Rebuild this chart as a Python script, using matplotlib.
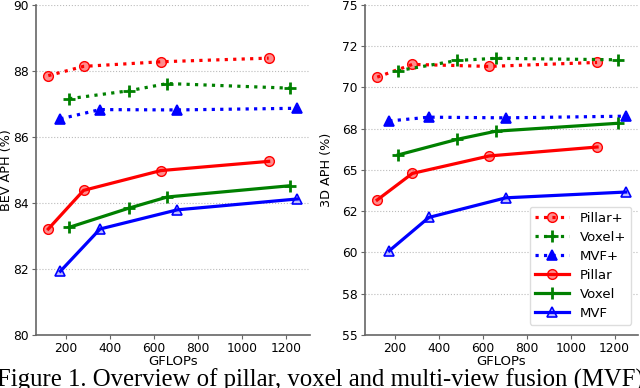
import numpy as np
import matplotlib
matplotlib.use('Agg')
import matplotlib.pyplot as plt
from matplotlib.ticker import FormatStrFormatter, MultipleLocator

# GFLOPs for each backbone
pillar_flops = [120, 280, 630, 1120]
voxel_flops = [215, 485, 660, 1215]
mvf_flops = [175, 355, 705, 1250]

# BEV APH (%)
bev_pillar_plus = [87.86, 88.14, 88.28, 88.39]
bev_voxel_plus = [87.16, 87.40, 87.62, 87.48]
bev_mvf_plus = [86.55, 86.83, 86.82, 86.87]
bev_pillar = [83.21, 84.38, 84.98, 85.26]
bev_voxel = [83.26, 83.84, 84.18, 84.52]
bev_mvf = [81.93, 83.21, 83.79, 84.12]

# 3D APH (%)
d3_pillar_plus = [70.63, 71.40, 71.28, 71.52]
d3_voxel_plus = [71.02, 71.64, 71.77, 71.68]
d3_mvf_plus = [67.97, 68.20, 68.16, 68.26]
d3_pillar = [63.18, 64.79, 65.85, 66.39]
d3_voxel = [65.91, 66.86, 67.35, 67.83]
d3_mvf = [60.10, 62.12, 63.31, 63.66]

labels = ['Pillar+', 'Voxel+', 'MVF+', 'Pillar', 'Voxel', 'MVF']
caption = 'Figure 1. Overview of pillar, voxel and multi-view fusion (MVF)'

plt.rcParams['font.family'] = ['DejaVu Sans']
plt.rcParams['font.size'] = 9

fig = plt.figure(figsize=(6.4, 3.88), dpi=100)
ax1 = fig.add_axes([0.056, 0.137, 0.428, 0.850])
ax2 = fig.add_axes([0.570, 0.137, 0.427, 0.850])


def draw(ax, vals):
    styles = [
        ('red', 'o', ':', pillar_flops),
        ('green', '+', ':', voxel_flops),
        ('blue', '^', ':', mvf_flops),
        ('red', 'o', '-', pillar_flops),
        ('green', '+', '-', voxel_flops),
        ('blue', '^', '-', mvf_flops),
    ]
    for (c, m, ls, xs), ys, lab in zip(styles, vals, labels):
        rgba = matplotlib.colors.to_rgba(c)
        if m == 'o':
            mfc = (rgba[0], rgba[1], rgba[2], 0.45)
            ms, mew = 7, 1.0
        elif m == '+':
            mfc = c
            ms, mew = 8, 2.0
        else:
            mfc = c if ls == ':' else (rgba[0], rgba[1], rgba[2], 0.25)
            ms, mew = 7, 1.2
        ax.plot(xs, ys, linestyle=ls, color=c, lw=2.3, marker=m, ms=ms,
                mfc=mfc, mec=c, mew=mew, label=lab)
    ax.grid(axis='y', linestyle=':', color='#bbbbbb', lw=0.8)
    ax.set_axisbelow(True)
    for s in ['top', 'right']:
        ax.spines[s].set_visible(False)
    for s in ['left', 'bottom']:
        ax.spines[s].set_color('#666666')
        ax.spines[s].set_linewidth(1.2)
    ax.tick_params(colors='#666666', labelcolor='black', length=3,
                   labelsize=8.8, pad=2)
    ax.set_xticks([200, 400, 600, 800, 1000, 1200])
    ax.set_xlabel('GFLOPs', fontsize=9.5, labelpad=0)


draw(ax1, [bev_pillar_plus, bev_voxel_plus, bev_mvf_plus,
           bev_pillar, bev_voxel, bev_mvf])
ax1.set_ylim(80, 90)
ax1.yaxis.set_major_locator(MultipleLocator(2))
ax1.set_ylabel('BEV APH (%)', fontsize=9.2)
ax1.yaxis.set_label_coords(-0.083, 0.5)

draw(ax2, [d3_pillar_plus, d3_voxel_plus, d3_mvf_plus,
           d3_pillar, d3_voxel, d3_mvf])
ax2.set_ylim(55, 75)
ax2.yaxis.set_major_locator(MultipleLocator(2.5))
ax2.yaxis.set_major_formatter(FormatStrFormatter('%.0f'))
ax2.set_ylabel('3D APH (%)', fontsize=9.2)
ax2.yaxis.set_label_coords(-0.115, 0.5)
ax2.legend(loc='lower right', fontsize=9.5, handlelength=2.6,
           labelspacing=0.45, borderpad=0.4, framealpha=1,
           edgecolor='#dddddd', bbox_to_anchor=(1.0, 0.01))

fig.text(-0.004, 0.004, caption, family='Liberation Serif', fontsize=17.8,
         va='baseline', ha='left')

fig.savefig('out.png', dpi=100)
